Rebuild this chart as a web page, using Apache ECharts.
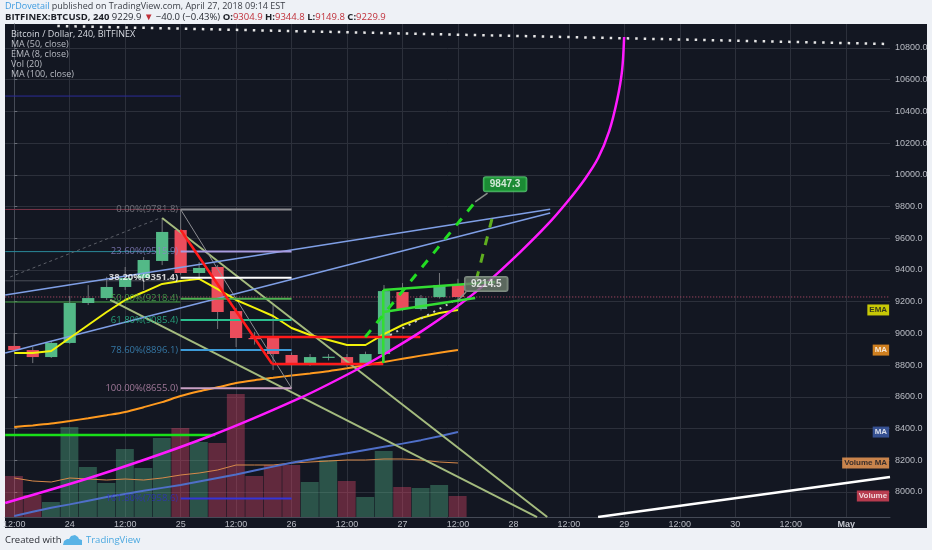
<!DOCTYPE html>
<html>
<head>
<meta charset="utf-8">
<script src="https://cdn.jsdelivr.net/npm/echarts@6.0.0/dist/echarts.min.js"></script>
<style>
  html, body { margin: 0; padding: 0; background: #eef1f6; }
  #chart { width: 932px; height: 550px; }
</style>
</head>
<body>
<div id="chart"></div>
<script>
// 4h bars, index 0 = Apr 23 12:00
const timeLabels = ['12:00', '24', '12:00', '25', '12:00', '26', '12:00', '27',
  '12:00', '28', '12:00', '29', '12:00', '30', '12:00', 'May'];
const barsPerLabel = 3;
const priceTicks = [8000, 8200, 8400, 8600, 8800, 9000, 9200, 9400, 9600,
  9800, 10000, 10200, 10400, 10600, 10800];

// [open, close, low, high]
const candles = [
  [8921, 8895, 8883, 9003],
  [8895, 8851, 8813, 8914],
  [8851, 8940, 8845, 8952],
  [8940, 9192, 8935, 9236],
  [9192, 9223, 9179, 9305],
  [9223, 9293, 9211, 9357],
  [9293, 9349, 9274, 9419],
  [9349, 9463, 9274, 9482],
  [9457, 9640, 9431, 9728],
  [9652, 9381, 9370, 9781.8],
  [9381, 9413, 9349, 9450],
  [9419, 9135, 9028, 9431],
  [9141, 8971, 8914, 9160],
  [8971, 8965, 8930, 9010],
  [8971, 8870, 8769, 9179],
  [8864, 8807, 8655, 8880],
  [8807, 8851, 8795, 8870],
  [8851, 8853, 8830, 8870],
  [8851, 8807, 8790, 8870],
  [8807, 8870, 8795, 8885],
  [8870, 9267, 8813, 9305],
  [9261, 9154, 9140, 9318],
  [9154, 9223, 9145, 9242],
  [9229, 9305, 9220, 9381],
  [9304.9, 9229.9, 9149.8, 9344.8]
];
const volumes = [205, 110, 75, 450, 250, 170, 340, 245, 395, 445, 375, 370, 615,
  205, 260, 260, 175, 285, 180, 100, 330, 150, 145, 160, 105];
const volumeMA = [195, 180, 175, 195, 190, 185, 190, 185, 195, 210, 220, 235, 260,
  260, 260, 270, 275, 280, 285, 285, 290, 290, 285, 275, 270];
const ema8 = [8877, 8877, 8889, 8971, 9053, 9135, 9211, 9261, 9312, 9331, 9344, 9280,
  9211, 9161, 9110, 9034, 8990, 8958, 8927, 8927, 8996, 9053, 9097, 9129, 9148];
const ma50 = [8410, 8420, 8432, 8448, 8465, 8484, 8505, 8535, 8567, 8605, 8635, 8660,
  8687, 8705, 8720, 8735, 8748, 8762, 8780, 8800, 8820, 8840, 8860, 8878, 8895];
const ma100 = [7849, 7875, 7900, 7922, 7945, 7968, 7988, 8008, 8026, 8044, 8066, 8088,
  8110, 8135, 8160, 8185, 8205, 8225, 8245, 8265, 8285, 8305, 8327, 8352, 8378];
const lastPrice = 9229.9;

// drawings, points are [bar index, price]
const parabola = [[-0.488, 7931], [4.649, 8110], [10.598, 8353], [15.466, 8593],
  [18.333, 8760], [20.172, 8880], [22.065, 9016], [23.849, 9160], [25.634, 9327],
  [27.365, 9513], [28.825, 9684], [29.906, 9829], [30.88, 9976], [31.583, 10106],
  [32.18, 10276], [32.61, 10472], [32.88, 10661], [32.989, 10869]];
const channelUpper = [[-0.49, 9242], [28.99, 9783]];
const channelLower = [[-0.49, 8877], [28.99, 9759]];
const fanA = [[8.0, 9728], [28.83, 7842]];
const fanB = [[5.19, 9211], [28.28, 7842]];
const fibDiag = [[9, 9781.8], [15, 8655]];
const fibGuide = [[-0.22, 9356], [7.89, 9728]];
const redDrop = [[9, 9652], [13.95, 8807]];
const redLow = [[13.95, 8807], [19.96, 8807]];
const redHigh = [[12.76, 8977], [21.96, 8977]];
const greenSupport = [[-0.49, 8360], [10.87, 8360]];
const flagPole = [[19.96, 9274], [19.96, 8813]];
const flagTop = [[19.96, 9274], [26.01, 9324]];
const flagBottom = [[19.96, 9135], [24.93, 9223]];
const targetPath = [[18.98, 8977], [24.93, 9829]];
const altPath = [[24.99, 9337], [25.85, 9727]];
const dotPath = [[20.33, 8990], [23.69, 9198]];
const topDotted = [[2.33, 10939], [47.37, 10825]];
const whiteTrend = [[31.58, 7842], [47.37, 8094]];
const targetTail = [[24.93, 9829], [25.6, 9885]];
const priceTail = [[24.01, 9211], [24.44, 9261]];

// fib retracement: [label, price, line colour, text colour]
const fibStart = 9, fibEnd = 15;
const fibLevels = [
  ['0.00%', 9781.8, '#8d8d92', '#85858c'],
  ['23.60%', 9515.9, '#a99be0', '#8c86c8'],
  ['38.20%', 9351.4, '#ffffff', '#ffffff'],
  ['50.00%', 9218.4, '#4caf50', '#4caf50'],
  ['61.80%', 9085.4, '#2bbf8f', '#2bbf8f'],
  ['78.60%', 8896.1, '#3d9bd8', '#3d8fc4'],
  ['100.00%', 8655.0, '#c9a0c4', '#c08fb4'],
  ['161.80%', 7958.6, '#3535d6', '#3030c0']
];
// rays running left from the fib block: [price, colour]
const leftRays = [[10497, '#2c2c9a'], [9781.8, '#7a3448'], [9515.9, '#2a8a9a'],
  [9332, '#4a4e58'], [9198, '#3f9f3f']];

const GREEN = '#53b987', RED = '#eb4d5c';
const X_MIN = -0.488, X_MAX = 47.37;
const Y_MIN = 7842.3, Y_MAX = 10951.4;

const chart = echarts.init(document.getElementById('chart'));

function seg(data, color, width, extra) {
  return Object.assign({
    type: 'line', data: data, showSymbol: false, symbol: 'none', silent: true,
    animation: false, z: 5,
    lineStyle: { color: color, width: width }
  }, extra || {});
}

const candleSeries = {
  type: 'custom', z: 4, animation: false, silent: true,
  data: candles.map((d, i) => [i, d[0], d[1], d[2], d[3]]),
  encode: { x: 0, y: [1, 2, 3, 4] },
  renderItem(params, api) {
    const i = api.value(0);
    const o = api.value(1), c = api.value(2), l = api.value(3), h = api.value(4);
    const top = api.coord([i, Math.max(o, c)]);
    const bot = api.coord([i, Math.min(o, c)]);
    const hi = api.coord([i, h]);
    const lo = api.coord([i, l]);
    const w = api.size([1, 0])[0] * 0.66;
    return {
      type: 'group',
      children: [
        { type: 'line', shape: { x1: hi[0], y1: hi[1], x2: lo[0], y2: lo[1] },
          style: { stroke: '#74767c', lineWidth: 1 } },
        { type: 'rect', shape: { x: top[0] - w / 2, y: top[1], width: w,
          height: Math.max(bot[1] - top[1], 1.2) },
          style: { fill: c >= o ? GREEN : RED } }
      ]
    };
  }
};

const volumeSeries = {
  type: 'custom', z: 1, animation: false, silent: true, yAxisIndex: 1,
  data: volumes.map((v, i) => [i, v, candles[i][1] >= candles[i][0] ? 1 : 0]),
  encode: { x: 0, y: 1 },
  renderItem(params, api) {
    const i = api.value(0);
    const a = api.coord([i - 0.5, api.value(1)]);
    const b = api.coord([i + 0.5, 0]);
    return {
      type: 'rect',
      shape: { x: a[0], y: a[1], width: b[0] - a[0] - 0.6, height: b[1] - a[1] },
      style: { fill: api.value(2) ? 'rgba(90,200,150,0.34)' : 'rgba(225,70,105,0.38)' }
    };
  }
};

const idx = arr => arr.map((v, i) => [i, v]);

const fibLineSeries = fibLevels.map(f =>
  seg([[fibStart, f[1]], [fibEnd, f[1]]], f[2], 2, { z: 6 }));
const rayLineSeries = leftRays.map(r => seg([[X_MIN, r[0]], [fibStart, r[0]]], r[1], 1, { z: 3 }));

const fibLabelSeries = {
  type: 'scatter', z: 7, silent: true, animation: false, symbolSize: 1,
  itemStyle: { color: 'rgba(0,0,0,0)' },
  data: fibLevels.map(f => ({
    value: [fibStart, f[1]],
    label: {
      show: true, position: 'left', distance: 2,
      formatter: f[0] + '(' + f[1].toFixed(1) + ')',
      color: f[3], fontSize: 9.5, fontFamily: 'Open Sans',
      fontWeight: f[0] === '38.20%' ? 'bold' : 'normal'
    }
  }))
};

function tag(x, y, text, bg, fg) {
  return {
    value: [x, y],
    label: {
      show: true, position: 'left', distance: 0, formatter: text,
      backgroundColor: bg, color: fg, fontSize: 8, fontWeight: 'bold',
      fontFamily: 'Liberation Sans', padding: [2, 2, 1, 2]
    }
  };
}
const tagSeries = {
  type: 'scatter', z: 9, silent: true, animation: false, symbolSize: 1,
  itemStyle: { color: 'rgba(0,0,0,0)' },
  data: [
    tag(X_MAX - 0.02, ema8[ema8.length - 1], 'EMA', '#f5f500', '#131722'),
    tag(X_MAX - 0.02, ma50[ma50.length - 1], 'MA', '#ff9a1f', '#ffffff'),
    tag(X_MAX - 0.02, ma100[ma100.length - 1], 'MA', '#3f5fae', '#ffffff')
  ]
};
const volTagSeries = {
  type: 'scatter', z: 9, silent: true, animation: false, symbolSize: 1, yAxisIndex: 1,
  itemStyle: { color: 'rgba(0,0,0,0)' },
  data: [
    tag(X_MAX - 0.02, volumeMA[volumeMA.length - 1], 'Volume MA', '#f7a057', '#131722'),
    tag(X_MAX - 0.02, volumes[volumes.length - 1], 'Volume', '#e0455a', '#ffffff')
  ]
};

const boxSeries = {
  type: 'scatter', z: 10, silent: true, animation: false, symbolSize: 1,
  itemStyle: { color: 'rgba(0,0,0,0)' },
  data: [
    { value: [26.55, 9941], label: { show: true, position: 'inside', formatter: '9847.3',
      backgroundColor: '#1ea83a', borderColor: '#5fd27a', borderWidth: 1, borderRadius: 2,
      color: '#ffffff', fontWeight: 'bold', fontSize: 10, fontFamily: 'Liberation Sans',
      padding: [2, 6, 2, 6] } },
    { value: [25.53, 9311], label: { show: true, position: 'inside', formatter: '9214.5',
      backgroundColor: '#6e7d6e', borderColor: '#9aa89a', borderWidth: 1, borderRadius: 2,
      color: '#ffffff', fontWeight: 'bold', fontSize: 10, fontFamily: 'Liberation Sans',
      padding: [2, 6, 2, 6] } }
  ]
};

const legendLines = ['MA (50, close)', 'EMA (8, close)', 'Vol (20)', 'MA (100, close)'];

const option = {
  backgroundColor: '#eef1f6',
  animation: false,
  grid: { left: 5, top: 24, width: 885, height: 493, show: false },
  xAxis: {
    type: 'value', min: X_MIN, max: X_MAX,
    axisLine: { show: true, lineStyle: { color: '#454a56' } },
    axisTick: { show: false, customValues: timeLabels.map((t, k) => k * barsPerLabel) },
    axisLabel: {
      customValues: timeLabels.map((t, k) => k * barsPerLabel),
      formatter: v => {
        const t = timeLabels[Math.round(v / barsPerLabel)];
        return t === 'May' ? '{b|May}' : t;
      },
      rich: { b: { fontWeight: 'bold', fontSize: 9, color: '#c5c8d0', fontFamily: 'Liberation Sans' } },
      color: '#b8bbc3', fontSize: 9, fontFamily: 'Liberation Sans', margin: 3
    },
    splitLine: { show: true, lineStyle: { color: '#2c303b', width: 1 } }
  },
  yAxis: [{
    type: 'value', position: 'right', min: Y_MIN, max: Y_MAX,
    axisLine: { show: true, lineStyle: { color: '#454a56' } },
    axisTick: { show: true, length: 3, customValues: priceTicks, lineStyle: { color: '#6a6e78' } },
    axisLabel: {
      customValues: priceTicks, formatter: v => v.toFixed(1),
      color: '#b8bbc3', fontSize: 9, fontFamily: 'Liberation Sans', margin: 5
    },
    splitLine: { show: true, lineStyle: { color: '#2c303b', width: 1 } }
  }, {
    type: 'value', min: 0, max: 2465, show: false, splitLine: { show: false }
  }],
  graphic: [
    { type: 'rect', z: -100, silent: true, shape: { x: 5, y: 24, width: 922, height: 504 },
      style: { fill: '#131722' } },
    { type: 'text', x: 5, y: 2, z: 100, silent: true,
      style: { text: '{a|DrDovetail} published on TradingView.com, April 27, 2018 09:14 EST',
        fontSize: 9, fontFamily: 'Open Sans', fill: '#3a3d45',
        rich: { a: { fill: '#3d9be0', fontSize: 9, fontFamily: 'Open Sans' } } } },
    { type: 'text', x: 5, y: 12, z: 100, silent: true,
      style: {
        text: '{b|BITFINEX:BTCUSD, 240} 9229.9 {t|▼} −40.0 (−0.43%) {b|O:}{r|9304.9} {b|H:}{r|9344.8} {b|L:}{r|9149.8} {b|C:}{r|9229.9}',
        fontSize: 9.5, fontFamily: 'Open Sans', fill: '#2a2d35',
        rich: {
          b: { fontWeight: 'bold', fontSize: 9.5, fontFamily: 'Open Sans', fill: '#1c1f26' },
          r: { fontSize: 9.5, fontFamily: 'Open Sans', fill: '#c0303a' },
          t: { fontSize: 9.5, fill: '#c0303a' }
        }
      } },
    { type: 'text', x: 11, y: 29.5, z: 100, silent: true,
      style: { text: 'Bitcoin / Dollar, 240, BITFINEX', fontSize: 9, fontFamily: 'Open Sans',
        fill: '#d6d9e0' } },
    ...legendLines.map((t, k) => ({
      type: 'text', x: 11, y: 39.8 + k * 10.2, z: 100, silent: true,
      style: { text: t, fontSize: 9, fontFamily: 'Open Sans', fill: '#b8bbc3' }
    })),
    { type: 'text', x: 5, y: 535, z: 100, silent: true,
      style: { text: 'Created with', fontSize: 9.5, fontFamily: 'Open Sans', fill: '#2a2d35' } },
    { type: 'polygon', z: 100, silent: true,
      shape: { points: [[63, 545], [64, 541], [67, 539], [69, 539], [71, 536], [75, 535],
        [78, 537], [79, 539], [82, 540], [82, 545]] },
      style: { fill: '#58b3e6' } },
    { type: 'text', x: 86, y: 535, z: 100, silent: true,
      style: { text: 'TradingView', fontSize: 9.5, fontFamily: 'Open Sans', fill: '#4aa8e0' } }
  ],
  series: [
    volumeSeries,
    seg(idx(volumeMA), '#d8894a', 1, { yAxisIndex: 1, z: 2 }),
    seg(idx(ma100), '#4f6fc8', 2, { z: 3 }),
    seg(idx(ma50), '#ff9a1f', 2, { z: 3, smooth: 0.3 }),
    ...rayLineSeries,
    seg([[X_MIN, lastPrice], [X_MAX, lastPrice]], '#c2506e', 1, { z: 3, lineStyle: { color: '#c2506e', width: 1, type: [1, 2] } }),
    seg(greenSupport, '#19e019', 2.5, { z: 5 }),
    seg(fanA, '#a4bb7e', 2, { z: 5 }),
    seg(fanB, '#a4bb7e', 2, { z: 5 }),
    seg(fibGuide, '#6a6d76', 1, { z: 3, lineStyle: { color: '#5c5f68', width: 1, type: [3, 3] } }),
    seg(fibDiag, '#8d8d92', 1, { z: 5 }),
    candleSeries,
    seg(channelUpper, '#7f9fe6', 1.5, { z: 6 }),
    seg(channelLower, '#7f9fe6', 1.5, { z: 6 }),
    seg(idx(ema8), '#f2f20a', 2, { z: 6 }),
    ...fibLineSeries,
    fibLabelSeries,
    seg(redDrop, '#ff1a1a', 2.5, { z: 7 }),
    seg(redLow, '#ff1a1a', 2.5, { z: 7 }),
    seg(redHigh, '#ff1a1a', 2.5, { z: 7 }),
    seg(parabola, '#ff1aff', 2.5, { z: 7, smooth: 0.3 }),
    seg(flagPole, '#33dd33', 2.5, { z: 8 }),
    seg(flagTop, '#33dd33', 2.5, { z: 8 }),
    seg(flagBottom, '#33dd33', 2.5, { z: 8 }),
    seg(targetPath, '#22dd22', 3, { z: 8, lineStyle: { color: '#22dd22', width: 3, type: [9, 9] } }),
    seg(altPath, '#5fae1f', 3, { z: 8, lineStyle: { color: '#5fae1f', width: 3, type: [9, 9] } }),
    seg(dotPath, '#c8c8c8', 2, { z: 8, lineStyle: { color: '#c8c8c8', width: 2, type: [2, 5] } }),
    seg(topDotted, '#e6e6e6', 2.5, { z: 8, lineStyle: { color: '#e6e6e6', width: 2.5, type: [2.5, 6] } }),
    seg(whiteTrend, '#ffffff', 2.5, { z: 8 }),
    seg(targetTail, '#8a8e8a', 1.5, { z: 9 }),
    seg(priceTail, '#8a8e8a', 1.5, { z: 9 }),
    boxSeries,
    tagSeries,
    volTagSeries
  ]
};

chart.setOption(option);
</script>
</body>
</html>
